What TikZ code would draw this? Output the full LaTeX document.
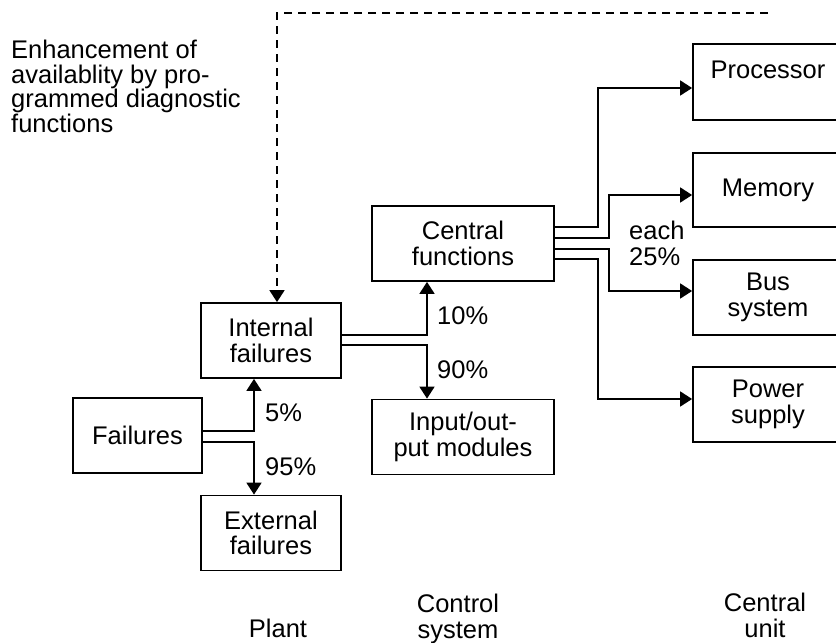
\documentclass[tikz,border=0pt]{standalone}
\usepackage{fontspec}
\setmainfont{Liberation Sans}
\usetikzlibrary{arrows.meta}
\begin{document}
\begin{tikzpicture}[x=1pt,y=-1pt,
  font=\fontsize{25.5}{25.5}\selectfont,
  box/.style={draw, line width=1.8pt, inner sep=0pt, align=center, minimum height=75pt},
  conn/.style={line width=1.8pt},
  arr/.style={conn, -{Triangle[length=12pt,width=15pt]}},
  lbl/.style={inner sep=0pt, anchor=west},
  captxt/.style={inner sep=0pt, align=center}]
\useasboundingbox (0,0) rectangle (836,643);
% boxes
\node[box, minimum width=129pt] (fail) at (137.5,435.5) {Failures};
\node[box, minimum width=140pt] (int) at (271,340.5) {Internal\\failures};
\node[box, minimum width=140pt] (ext) at (271,533) {External\\failures};
\node[box, minimum width=182pt] (cen) at (463,243.5) {Central\\functions};
\node[box, minimum width=182pt] (io) at (463,437) {Input/out-\\put modules};
\node[box, minimum width=150pt, minimum height=76pt, text height=18pt, text depth=26pt] (proc) at (768,82) {Processor};
\node[box, minimum width=150pt, minimum height=74pt] (mem) at (768,190) {Memory};
\node[box, minimum width=150pt] (bus) at (768,297.5) {Bus\\system};
\node[box, minimum width=150pt] (pow) at (768,404.5) {Power\\supply};
% connectors
\draw[arr] ([yshift=4.5pt]fail.east) -| ([xshift=-17pt]int.south);
\draw[arr] ([yshift=-6.5pt]fail.east) -| ([xshift=-17pt]ext.north);
\draw[arr] ([yshift=5.5pt]int.east) -| ([xshift=-36pt]cen.south);
\draw[arr] ([yshift=-4.5pt]int.east) -| ([xshift=-36pt]io.north);
\draw[arr] ([yshift=16.5pt]cen.east) -- ++(43,0) |- ([yshift=-6pt]proc.west);
\draw[arr] ([yshift=5.5pt]cen.east) -- ++(54,0) |- ([yshift=-5pt]mem.west);
\draw[arr] ([yshift=-5.5pt]cen.east) -- ++(54,0) |- ([yshift=6.5pt]bus.west);
\draw[arr] ([yshift=-15.5pt]cen.east) -- ++(43,0) |- ([yshift=5.5pt]pow.west);
% dashed feedback
\coordinate (dend) at (768,13);
\draw[arr, dash pattern=on 8pt off 6pt] (dend) -| ([xshift=6pt]int.north);
% labels
\node[lbl] (p5) at (265,413) {5\%};
\node[lbl] (p95) at (265,467) {95\%};
\node[lbl] (p10) at (437,316) {10\%};
\node[lbl] (p90) at (437,370) {90\%};
\node[lbl, align=left] (each) at (629,243.5) {each\\25\%};
\node[inner sep=0pt, anchor=north west, align=left, font=\fontsize{25.5}{24.5}\selectfont] (enh) at (11,40)
  {Enhancement of\\availablity by pro-\\grammed diagnostic\\functions};
\node[inner sep=0pt, anchor=base] (plant) at (278,637) {Plant};
\node[captxt, anchor=north] (ctrl) at (458,594) {Control\\system};
\node[captxt, anchor=north] (cu) at (765,593) {Central\\unit};
\end{tikzpicture}
\end{document}
